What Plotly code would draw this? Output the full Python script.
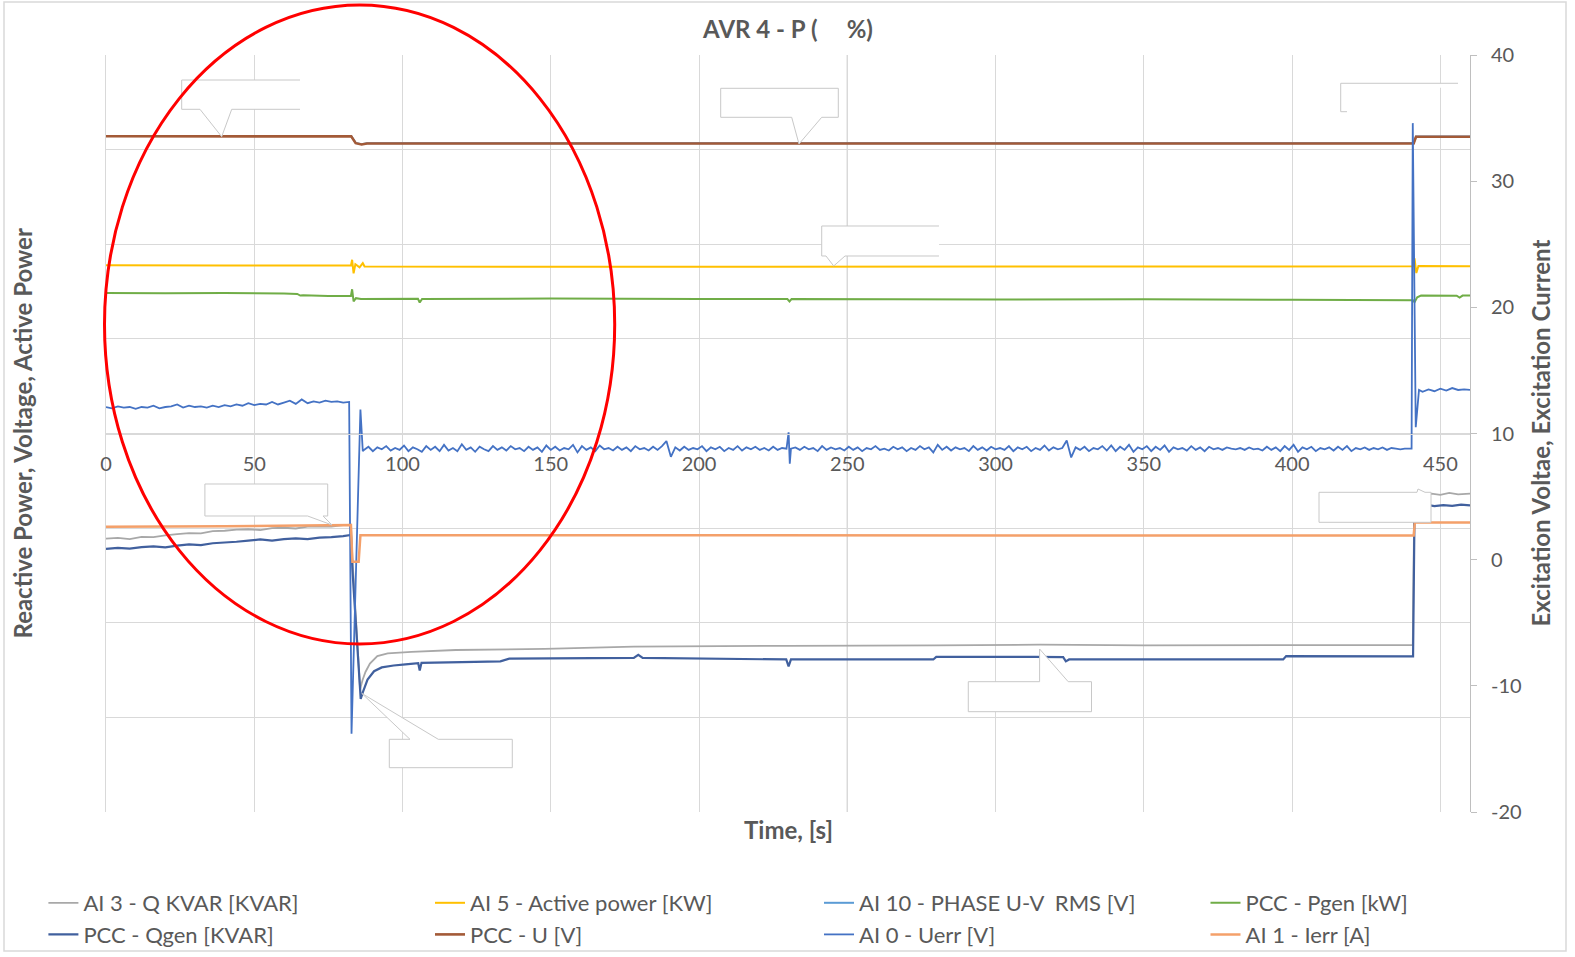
import plotly.graph_objects as go

# ---------------- data ----------------
x_ticks = [0, 50, 100, 150, 200, 250, 300, 350, 400, 450]
y2_ticks = [-20, -10, 0, 10, 20, 30, 40]
y2_tick_text = ["-20", "-10", "0", "10", "20", "30", "40"]

# AI 3 - Q KVAR [KVAR]  (left axis)
q_kvar_t = [0, 4, 8, 12, 16, 20, 24, 28, 32, 36, 40, 44, 48, 52, 56, 60, 64, 68, 72, 76, 80,
            82.6, 83.1, 85.7, 86.5, 87.5, 89.0, 91.5, 95, 103, 118, 148, 178, 230, 280, 315, 350, 400, 440.7,
            441.2, 441.7, 444, 447, 450, 453, 456, 460]
q_kvar_v = [-139, -138, -139.5, -136.5, -137, -134.5, -133, -131.5, -132, -129, -128.5, -127, -126.5,
            -127.5, -125, -124.5, -125.5, -123, -122.5, -123, -121,
            -120.5, -165, -338, -326, -315, -304, -294, -290.5, -288.5, -286, -284.5, -281.5, -280.5,
            -280, -279, -280, -279.5, -279.5,
            -95, -80.5, -82, -79.5, -81, -78.5, -80.5, -79.5]

# AI 5 - Active power [KW]  (left axis)
p_ai5_t = [0, 40, 82.6, 83.0, 83.5, 84.1, 85.5, 86.6, 87.2, 200, 440.9, 441.3, 441.9, 442.6, 460]
p_ai5_v = [222.3, 222.0, 221.8, 229.5, 211.5, 223.5, 219.5, 225.0, 220.5, 220.3, 220.8, 231.5, 212.0, 221.2, 221.0]

# PCC - U [V] and AI 10 - PHASE U-V RMS [V]  (left axis)
u_t = [0, 82.7, 84.2, 86.2, 88, 441.0, 441.8, 460]
u_pcc_v = [392.6, 392.5, 383.5, 381.8, 383.0, 383.2, 392.0, 392.0]
u_ai10_v = [393.0, 392.9, 383.9, 382.2, 383.4, 383.6, 392.4, 392.4]

# PCC - Pgen [kW]  (left axis)
pgen_t = [0, 20, 40, 60, 64.5, 65.5, 66.5, 75, 82.6, 83.0, 83.5, 84.3, 86, 105.2, 105.8, 106.6,
          150, 200, 229.8, 230.5, 231.2, 300, 350, 400, 440.8, 441.3, 442.2, 443.5, 455.5, 456.5, 457.5, 460]
pgen_v = [185.7, 185.3, 185.5, 184.8, 184.4, 182.2, 182.6, 181.8, 181.7, 190.5, 174.5, 178.8, 177.8,
          178.0, 173.0, 177.8, 178.2, 177.6, 177.6, 174.5, 177.6, 177.0, 177.3, 176.6, 175.9, 173.5,
          180.0, 182.2, 182.1, 179.5, 182.2, 182.2]

# PCC - Qgen [KVAR]  (left axis)
qgen_t = [0, 4, 8, 12, 16, 20, 24, 28, 32, 36, 40, 44, 48, 52, 56, 60, 64, 68, 72, 76, 80,
          82.6, 83.1, 85.9, 86.6, 88.2, 90.4, 93, 97, 101, 105.3, 105.8, 106.4, 120, 133, 136, 178,
          179.5, 181, 229.4, 230.2, 231.0, 279, 280, 313, 322.8, 323.7, 324.8, 397, 398, 440.8,
          441.3, 441.9, 445, 448, 451, 454, 457, 460]
qgen_v = [-152.5, -151, -152, -150, -149, -150.5, -148, -146.5, -147.5, -145, -144, -143, -141.5,
          -140, -141.5, -139.5, -138.5, -139.5, -137.5, -137, -135.5,
          -134, -180, -350.5, -342, -325, -314, -309, -306.5, -305, -303.5, -313, -303, -302, -301,
          -297.5, -296.5, -292.5, -296.5, -298.5, -307.5, -298.5, -298.5, -295, -295, -295.5, -301,
          -298.5, -298.5, -294, -294.5,
          -100, -95, -94, -96, -94.5, -95.5, -94, -95]

# AI 0 - Uerr [V]  (right axis) -- before the step
uerr_t_a = [0, 2, 4, 6, 8, 10, 12, 14, 16, 18, 20, 22, 24, 26, 28, 30, 32, 34, 36, 38,
            40, 42, 44, 46, 48, 50, 52, 54, 56, 58, 60, 62, 64, 66, 68, 70, 72, 74, 76, 78, 80, 82,
            82.8, 85.8, 86.6]
uerr_v_a = [12.1, 12.0, 12.15, 12.05, 12.1, 11.95, 12.1, 12.05, 12.2, 12.0,
            12.1, 12.15, 12.3, 12.05, 12.2, 12.1, 12.15, 12.05, 12.2, 12.1,
            12.25, 12.15, 12.3, 12.2, 12.4, 12.25, 12.35, 12.3, 12.5, 12.3,
            12.45, 12.6, 12.35, 12.7, 12.4, 12.55, 12.45, 12.6, 12.5, 12.55,
            12.45, 12.5,
            -13.8, 11.9, 8.6]
# AI 0 - Uerr [V] -- reduced excitation period
uerr_t_b = [87, 88.5, 90, 91.5, 93, 94.5, 96, 97.5, 99, 100.5,
            102, 103.5, 105, 106.5, 108, 109.5, 111, 112.5, 114, 115.5,
            117, 118.5, 120, 121.5, 123, 124.5, 126, 127.5, 129, 130.5,
            132, 133.5, 135, 136.5, 138, 139.5, 141, 142.5, 144, 145.5,
            147, 148.5, 150, 151.5, 153, 154.5, 156, 157.5, 159, 160.5,
            162, 163.5, 165, 166.5, 168, 169.5, 171, 172.5, 174, 175.5,
            177, 178.5, 180, 181.5, 183, 184.5, 186, 187.5, 189, 190.5,
            192, 193.5, 195, 196.5, 198, 199.5, 201, 202.5, 204, 205.5,
            207, 208.5, 210, 211.5, 213, 214.5, 216, 217.5, 219, 220.5,
            222, 223.5, 225, 226.5, 228, 229.5,
            230.2, 230.6, 231.0,
            232.5, 234, 235.5, 237, 238.5, 240, 241.5, 243, 244.5, 246,
            247.5, 249, 250.5, 252, 253.5, 255, 256.5, 258, 259.5, 261,
            262.5, 264, 265.5, 267, 268.5, 270, 271.5, 273, 274.5, 276,
            277.5, 279, 280.5, 282, 283.5, 285, 286.5, 288, 289.5, 291,
            292.5, 294, 295.5, 297, 298.5, 300, 301.5, 303, 304.5, 306,
            307.5, 309, 310.5, 312, 313.5, 315, 316.5, 318, 319.5, 321,
            322.5, 324, 325.5, 327, 328.5, 330, 331.5, 333, 334.5, 336,
            337.5, 339, 340.5, 342, 343.5, 345, 346.5, 348, 349.5, 351,
            352.5, 354, 355.5, 357, 358.5, 360, 361.5, 363, 364.5, 366,
            367.5, 369, 370.5, 372, 373.5, 375, 376.5, 378, 379.5, 381,
            382.5, 384, 385.5, 387, 388.5, 390, 391.5, 393, 394.5, 396,
            397.5, 399, 400.5, 402, 403.5, 405, 406.5, 408, 409.5, 411,
            412.5, 414, 415.5, 417, 418.5, 420, 421.5, 423, 424.5, 426,
            427.5, 429, 430.5, 432, 433.5, 435, 436.5, 438]
uerr_v_b = [8.7, 8.95, 8.6, 8.9, 8.75, 9.0, 8.65, 8.85, 8.7, 9.05,
            8.6, 8.9, 8.75, 8.55, 9.0, 8.7, 8.95, 8.6, 9.1, 8.65,
            8.85, 8.6, 9.15, 8.7, 8.9, 8.55, 8.95, 8.75, 8.6, 9.0,
            8.7, 8.9, 8.65, 9.0, 8.75, 8.85, 8.6, 8.95, 8.7, 8.9,
            8.55, 9.05, 8.7, 8.95, 8.65, 8.85, 8.75, 9.1, 8.5, 9.0,
            8.7, 8.9, 8.6, 9.05, 8.75, 8.85, 8.65, 8.95, 8.7, 8.9,
            8.6, 9.0, 8.75, 8.85, 8.65, 8.95, 8.7, 9.0, 9.4, 8.15,
            8.9, 8.65, 8.95, 8.7, 8.85, 8.75, 9.0, 8.6, 8.9, 8.75,
            8.95, 8.6, 8.85, 8.7, 9.0, 8.65, 8.9, 8.75, 8.95, 8.7,
            8.85, 8.65, 8.95, 8.7, 8.85, 8.8,
            10.1, 7.6, 8.8,
            8.9, 8.7, 8.95, 8.75, 8.85, 8.6, 9.0, 8.7, 8.9, 8.75,
            8.85, 8.65, 8.95, 8.7, 8.9, 8.6, 8.85, 8.75, 9.0, 8.7,
            8.8, 8.65, 8.95, 8.75, 8.9, 8.6, 8.85, 8.7, 9.0, 8.75,
            8.9, 8.5, 9.1, 8.7, 8.95, 8.65, 8.9, 8.75, 8.85, 8.6,
            9.0, 8.7, 8.9, 8.65, 8.95, 8.75, 8.85, 8.7, 9.0, 8.6,
            8.9, 8.75, 8.95, 8.6, 8.85, 8.7, 9.05, 8.65, 8.9, 8.75,
            8.85, 9.45, 8.1, 8.9, 8.7, 8.95, 8.6, 8.85, 8.75, 9.0,
            8.65, 9.05, 8.6, 8.95, 8.7, 9.1, 8.55, 8.9, 8.75, 9.0,
            8.6, 8.95, 8.7, 9.05, 8.55, 8.9, 8.75, 8.85, 8.65, 9.0,
            8.7, 8.9, 8.6, 8.95, 8.75, 8.85, 8.7, 8.9, 8.8, 8.75,
            8.85, 8.7, 8.9, 8.75, 8.8, 8.65, 8.95, 8.7, 8.9, 8.6,
            9.0, 8.7, 9.1, 8.55, 8.9, 8.75, 8.95, 8.6, 8.85, 8.75,
            8.9, 8.65, 8.95, 8.7, 9.0, 8.6, 8.85, 8.75, 8.9, 8.7,
            8.85, 8.75, 8.9, 8.7, 8.85, 8.8, 8.75, 8.8]
# AI 0 - Uerr [V] -- after the return step
uerr_t_c = [440.3, 440.7, 441.7, 442.8, 444, 446, 448, 450, 452, 454, 456, 458, 460]
uerr_v_c = [8.8, 34.6, 10.5, 13.45, 13.3, 13.5, 13.35, 13.55, 13.4, 13.6, 13.45, 13.5, 13.45]

# AI 1 - Ierr [A]  (right axis)
ierr_t = [0, 40, 82.6, 83.1, 85.2, 85.8, 441.0, 441.4, 460]
ierr_v = [2.6, 2.65, 2.74, -0.17, -0.17, 1.94, 1.91, 2.95, 2.95]

uerr_t = uerr_t_a + uerr_t_b + uerr_t_c
uerr_v = uerr_v_a + uerr_v_b + uerr_v_c

# ---------------- layout geometry (pixels) ----------------
W, H = 1575, 957
ML, MR, MT, MB = 106, 105, 55, 145
PW = W - ML - MR
PH = H - MT - MB


def fx(p):
    return (p - ML) / PW


def fy(p):
    return (H - MB - p) / PH


GREY_TXT = "#595959"
FONT = "Lato"

fig = go.Figure()


def add(name, t, v, color, width, legend, axis="y"):
    n = min(len(t), len(v))
    fig.add_trace(go.Scatter(x=t[:n], y=v[:n], name=name, mode="lines", yaxis=axis, legend=legend,
                             line=dict(color=color, width=width, simplify=False), hoverinfo="skip"))


add("AI 3 - Q KVAR [KVAR]", q_kvar_t, q_kvar_v, "#A8A8A8", 1.8, "legend")
add("AI 5 - Active power [KW]", p_ai5_t, p_ai5_v, "#FFC000", 2, "legend2")
add("AI 10 - PHASE U-V  RMS [V]", u_t, u_ai10_v, "#5B9BD5", 2, "legend3")
add("PCC - Pgen [kW]", pgen_t, pgen_v, "#70AD47", 2, "legend4")
add("PCC - Qgen [KVAR]", qgen_t, qgen_v, "#41609E", 2.2, "legend")
add("PCC - U [V]", u_t, u_pcc_v, "#A35A37", 2.6, "legend2")
add("AI 0 - Uerr [V]", uerr_t, uerr_v, "#4472C4", 1.8, "legend3", "y2")
add("AI 1 - Ierr [A]", ierr_t, ierr_v, "#F4A06A", 2.5, "legend4", "y2")

# callout boxes (Excel data callouts with empty text)
callouts = [
    [(300, 80), (181.7, 80), (181.7, 109.3), (200, 109.3), (221.7, 136.7), (231.7, 109.3), (300, 109.3)],
    [(720.7, 88.3), (838.3, 88.3), (838.3, 117.3), (821.7, 117.3), (799, 144), (791.7, 117.3), (720.7, 117.3), (720.7, 88.3)],
    [(1458, 83.3), (1340.7, 83.3), (1340.7, 111.7), (1347, 111.7)],
    [(939, 226), (821.7, 226), (821.7, 256), (826, 256), (833.7, 266), (845, 256), (939, 256)],
    [(204.9, 484), (327.7, 484), (327.7, 516), (323, 516), (332, 525), (307.6, 516), (204.9, 516), (204.9, 484)],
    [(389.3, 739.3), (410, 739.3), (361.7, 693.3), (438.3, 739.3), (512.3, 739.3), (512.3, 767.7), (389.3, 767.7), (389.3, 739.3)],
    [(968.3, 681.7), (1039.6, 681.7), (1039.6, 649), (1068.2, 681.7), (1091.5, 681.7), (1091.5, 711.7), (968.3, 711.7), (968.3, 681.7)],
    [(1319, 492.3), (1417, 492.3), (1418, 489), (1425, 492.3), (1431, 492.3), (1431, 522.3), (1319, 522.3), (1319, 492.3)],
]
shapes = []
# outer frame
shapes.append(dict(type="rect", xref="paper", yref="paper", x0=fx(4), x1=fx(1566), y0=fy(951), y1=fy(2),
                   line=dict(color="#D9D9D9", width=1.5), fillcolor="rgba(0,0,0,0)", layer="below"))
# darker gridline at t = 250
shapes.append(dict(type="line", xref="x", yref="paper", x0=250, x1=250, y0=0, y1=1,
                   line=dict(color="#A6A6A6", width=1), layer="below"))
for pts in callouts:
    d = "M " + " L ".join(f"{fx(a):.5f},{fy(b):.5f}" for a, b in pts)
    shapes.append(dict(type="path", xref="paper", yref="paper", path=d,
                       line=dict(color="#C8C8C8", width=1), fillcolor="white", layer="above"))
# red ellipse
shapes.append(dict(type="circle", xref="paper", yref="paper", x0=fx(104.5), x1=fx(614.7), y0=fy(643.9), y1=fy(5),
                   line=dict(color="#FF0000", width=3), fillcolor="rgba(0,0,0,0)", layer="above"))

legend_common = dict(orientation="v", xanchor="left", yanchor="top", bgcolor="rgba(0,0,0,0)",
                     font=dict(family=FONT, size=22, color=GREY_TXT), itemwidth=30, borderwidth=0)

fig.update_layout(
    width=W, height=H,
    margin=dict(l=ML, r=MR, t=MT, b=MB, autoexpand=False),
    paper_bgcolor="white", plot_bgcolor="white",
    title=dict(text="AVR 4 - P (     %)", x=0.5, xref="paper", xanchor="center",
               y=1 - 30 / H, yref="container", yanchor="middle",
               font=dict(family=FONT, size=24, color=GREY_TXT, weight="bold")),
    xaxis=dict(range=[0, 460], tickvals=x_ticks, showgrid=True, gridcolor="#D9D9D9", gridwidth=1,
               zeroline=False, showline=True, linecolor="#D9D9D9", anchor="free", position=0.5,
               ticks="", ticklabelstandoff=12,
               tickfont=dict(family=FONT, size=20, color=GREY_TXT)),
    yaxis=dict(range=[-500, 500], dtick=125, tick0=0, showgrid=True, gridcolor="#D9D9D9", gridwidth=1,
               zeroline=False, showline=True, linecolor="#D9D9D9", showticklabels=False, ticks=""),
    yaxis2=dict(range=[-20, 40], tickvals=y2_ticks, ticktext=y2_tick_text, overlaying="y", side="right",
                showgrid=False, zeroline=False, showline=True, linecolor="#BFBFBF", ticks="outside", ticklen=6,
                tickcolor="#BFBFBF", ticklabelstandoff=10,
                tickfont=dict(family=FONT, size=20, color=GREY_TXT)),
    legend=dict(legend_common, x=fx(43.4), y=fy(882)),
    legend2=dict(legend_common, x=fx(430), y=fy(882)),
    legend3=dict(legend_common, x=fx(819), y=fy(882)),
    legend4=dict(legend_common, x=fx(1205.5), y=fy(882)),
    shapes=shapes,
    annotations=[
        dict(text="Time, [s]", xref="paper", yref="paper", x=0.5, y=fy(829), xanchor="center",
             yanchor="middle", showarrow=False,
             font=dict(family=FONT, size=24, color=GREY_TXT, weight="bold")),
        dict(text="Reactive Power, Voltage, Active Power", xref="paper", yref="paper", x=fx(22), y=0.5,
             xanchor="center", yanchor="middle", textangle=-90, showarrow=False,
             font=dict(family=FONT, size=24, color=GREY_TXT, weight="bold")),
        dict(text="Excitation Voltae, Excitation Current", xref="paper", yref="paper", x=fx(1540), y=0.5,
             xanchor="center", yanchor="middle", textangle=-90, showarrow=False,
             font=dict(family=FONT, size=24, color=GREY_TXT, weight="bold")),
    ],
)

fig.write_html("out.html")
